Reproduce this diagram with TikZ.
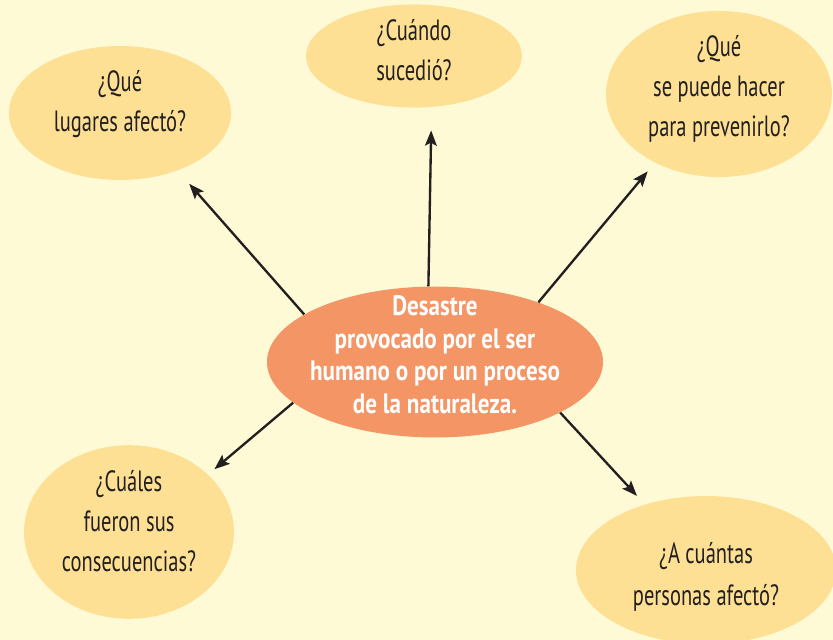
\documentclass[tikz,border=0pt]{standalone}
\usepackage{fontspec}
\setmainfont{PT Sans}
\newfontfamily\preguntafont{PT Sans}[FakeStretch=0.7]
\newfontfamily\temafont{PT Sans}[FakeStretch=0.82]
\usepackage{xcolor}
\usepackage{tikz}
\usetikzlibrary{shapes}
\usetikzlibrary{positioning, arrows.meta}
\definecolor{fondo}{HTML}{FFFAD6}
\definecolor{burbuja}{HTML}{FDE094}
\definecolor{naranja}{HTML}{F49566}
\definecolor{tinta}{HTML}{231F20}

\begin{document}
\begin{tikzpicture}[x=0.03cm, y=-0.03cm,
    pregunta/.style={ellipse, fill=burbuja, inner sep=0pt, align=center, text=tinta,
      font=\preguntafont\fontsize{25}{34}\selectfont},
    tema/.style={ellipse, fill=naranja, inner xsep=-0.25cm, inner ysep=-0.4cm, align=center, text=white,
      font=\temafont\bfseries\fontsize{24}{28}\selectfont},
    flecha/.style={tinta, line width=2pt, -{Stealth[length=13pt, width=10pt, inset=2.5pt]}}]
          \clip (0,0) rectangle (833,640);
          \fill[fondo] (0,0) rectangle (833,640);
          \node[tema, minimum width=10.08cm, minimum height=4.5cm, text depth=0.45cm] at (435, 362) (centro) {Desastre\\ provocado por el ser\\ humano o por un proceso\\ de la naturaleza.};
          \node[pregunta, minimum width=6.66cm, minimum height=4.02cm, text depth=0.7cm] at (120, 113) (lugares) {¿Qué\\ lugares afectó?};
          \node[pregunta, minimum width=6.48cm, minimum height=2.64cm, text depth=0.36cm] at (414, 56) (cuando) {¿Cuándo\\ sucedió?};
          \node[pregunta, minimum width=6.78cm, minimum height=3.96cm, text depth=0.5cm] at (719, 94) (prevenir) {¿Qué\\ se puede hacer\\ para prevenirlo?};
          \node[pregunta, minimum width=6.3cm, minimum height=4.44cm, text depth=0.66cm] at (129, 532) (consecuencias) {¿Cuáles\\ fueron sus\\ consecuencias?};
          \node[pregunta, minimum width=7.8cm, minimum height=4.44cm, text height=2.3cm] at (706, 570) (personas) {¿A cuántas\\[2pt] personas afectó?};
          \draw[flecha, shorten >=0.53cm] (centro.160) -- (lugares.-45);
          \draw[flecha, shorten >=0.7cm] (centro.95) -- (cuando.-71);
          \draw[flecha, shorten >=0.34cm] (centro.30.5) -- (prevenir.-133);
          \draw[flecha, shorten >=0.25cm] (centro.196) -- (consecuencias.36);
          \draw[flecha, shorten >=0.35cm] (centro.-22) -- (personas.133);
        \end{tikzpicture}
\end{document}
